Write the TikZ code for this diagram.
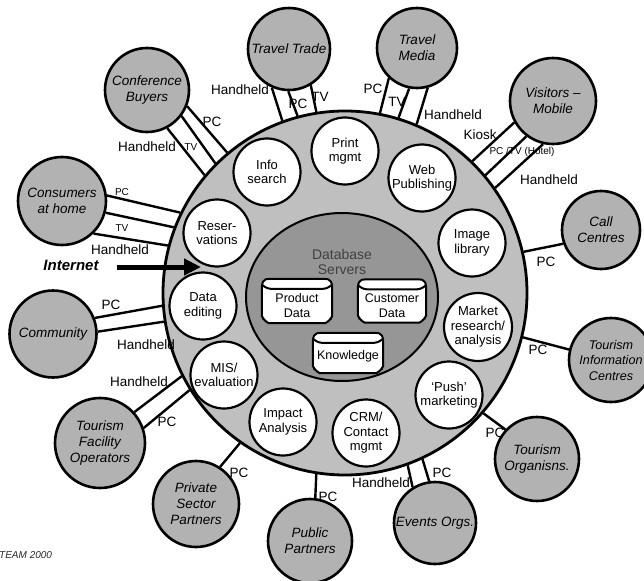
\documentclass[tikz,border=0pt]{standalone}
\usepackage{fontspec}
\setmainfont{Liberation Sans}
\usetikzlibrary{shapes.geometric,arrows.meta}

\definecolor{ringgray}{gray}{0.75}
\definecolor{hubgray}{gray}{0.59}
\definecolor{partygray}{gray}{0.70}

% data store outline (drum seen from the side) around an empty node
\newcommand\drumbox[1]{%
  \draw[storeline,fill=white,rounded corners=2pt]
    ([yshift=-6pt]#1.north west) -- ([xshift=2pt,yshift=-1pt]#1.north west)
    -- ([xshift=6pt]#1.north west) -- ([xshift=-6pt]#1.north east)
    -- ([xshift=-2pt,yshift=-1pt]#1.north east) -- ([yshift=-6pt]#1.north east)
    -- ([yshift=5pt]#1.south east) -- ([xshift=-3pt,yshift=4pt]#1.south east)
    -- ([xshift=-5pt]#1.south east) -- ([xshift=5pt]#1.south west)
    -- ([xshift=3pt,yshift=4pt]#1.south west) -- ([yshift=5pt]#1.south west)
    -- cycle;
  \draw[storeline,rounded corners=3pt]
    ([yshift=-6pt]#1.north west) -- ([xshift=6pt,yshift=-10pt]#1.north west)
    -- ([xshift=-6pt,yshift=-10pt]#1.north east) -- ([yshift=-6pt]#1.north east);
}

\begin{document}
\begin{tikzpicture}[x=1pt,y=-1pt,
  ringnode/.style={circle,draw,line width=2.8pt,fill=ringgray,minimum size=364pt,inner sep=0pt},
  hub/.style={ellipse,draw,line width=2pt,fill=hubgray,minimum width=192pt,minimum height=168pt,inner sep=0pt},
  hubtext/.style={align=center,inner sep=0pt,text=black!75,font=\fontsize{14}{15}\selectfont},
  store/.style={rectangle,draw=none,inner sep=0pt,minimum width=70pt,minimum height=44pt},
  storeline/.style={line width=2pt,line join=round},
  storetext/.style={align=center,inner sep=0pt,font=\fontsize{12.5}{15}\selectfont},
  service/.style={circle,draw,line width=2.2pt,fill=white,minimum size=67pt,inner sep=0pt,
    align=center,font=\fontsize{13}{14.5}\selectfont},
  party/.style={circle,draw,line width=2.6pt,fill=partygray,inner sep=0pt,
    align=center,font=\fontsize{13.5}{16}\selectfont\itshape},
  link/.style={line width=2.4pt},
  lbl/.style={inner sep=0pt,font=\fontsize{13.5}{16}\selectfont},
  slbl/.style={inner sep=0pt,font=\fontsize{10}{12}\selectfont}]

\useasboundingbox (0,0) rectangle (644,580);

% central ring and database hub
\node[ringnode] (ring) at (345,293) {};
\node[hub] (hub) at (342,297) {};
\node[hubtext] (dbs) at (342,262) {Database\\Servers};

\node[store] (pd) at (297,301) {};
\drumbox{pd}
\node[storetext] (pdt) at (297,306) {Product\\Data};
\node[store,minimum width=68pt,minimum height=43pt] (cd) at (392,301) {};
\drumbox{cd}
\node[storetext] (cdt) at (392,306) {Customer\\Data};
\node[store,minimum height=40pt] (kn) at (348,353) {};
\drumbox{kn}
\node[storetext] (knt) at (348,356) {Knowledge};

% services around the hub
\node[service] (is)  at (267,172) {Info\\search};
\node[service] (pm)  at (345,151) {Print\\mgmt};
\node[service] (wp)  at (422,178) {Web\\Publishing};
\node[service] (il)  at (472,243) {Image\\library};
\node[service] (mr)  at (478,327) {Market\\research/\\analysis};
\node[service] (pu)  at (449,395) {‘Push’\\marketing};
\node[service] (crm) at (366,433) {CRM/\\Contact\\mgmt};
\node[service] (ia)  at (283,422) {Impact\\Analysis};
\node[service] (mis) at (224,375) {MIS/\\evaluation};
\node[service] (de)  at (203,306) {Data\\editing};
\node[service] (rs)  at (217,233) {Reser-\\vations};

% partners and users
\node[party,minimum size=84pt] (cb) at (147,90)  {Conference\\Buyers};
\node[party,minimum size=82pt] (tt) at (289,49)  {Travel Trade};
\node[party,minimum size=80pt] (tm) at (417,48)  {Travel\\Media};
\node[party,minimum size=86pt] (vm) at (553,101) {Visitors –\\Mobile};
\node[party,minimum size=78pt] (cc) at (601,230) {Call\\Centres};
\node[party,minimum size=84pt,font=\fontsize{12.6}{15.5}\selectfont\itshape] (ti) at (611,360) {Tourism\\Information\\Centres};
\node[party,minimum size=84pt] (to) at (537,459) {Tourism\\Organisns.};
\node[party,minimum size=82pt] (eo) at (435,523) {Events Orgs.};
\node[party,minimum size=84pt] (pp) at (310,541) {Public\\Partners};
\node[party,minimum size=86pt] (ps) at (196,504) {Private\\Sector\\Partners};
\node[party,minimum size=90pt] (tf) at (100,443) {Tourism\\Facility\\Operators};
\node[party,minimum size=87pt] (co) at (53,334)  {Community};
\node[party,minimum size=88pt] (ch) at (62,201)  {Consumers\\at home};

% access channels
\draw[link] (cb.-62.8) -- (ring.140.8);
\draw[link] (cb.-37.1) -- (ring.135.4);
\draw[link] (cb.-22.5) -- (ring.130.5);

\draw[link] (tt.-114.7) -- (ring.110.9);
\draw[link] (tt.-91.4)  -- (ring.105.6);
\draw[link] (tt.-59.2)  -- (ring.99.5);

\draw[link] (tm.-133)   -- (ring.79.9);
\draw[link] (tm.-101.9) -- (ring.73.4);
\draw[link] (tm.-75.7)  -- (ring.67.4);

\draw[link] (vm.-151.7) -- (ring.46.6);
\draw[link] (vm.-127.4) -- (ring.40.2);
\draw[link] (vm.-103)   -- (ring.35.0);

\draw[link] (cc.-160) -- (ring.13.0);
\draw[link] (ti.166.6) -- (ring.-14.4);
\draw[link] (to.137) -- (ring.-41);

\draw[link] (eo.122.5) -- (ring.-70.8);
\draw[link] (eo.98.5)  -- (ring.-65.8);

\draw[link] (pp.83.2) -- (ring.-99.5);
\draw[link] (ps.57.8) -- (ring.-125.7);

\draw[link] (tf.42.3) -- (ring.-153.9);
\draw[link] (tf.19.7) -- (ring.-148.5);

\draw[link] (co.21.1) -- (ring.-176.5);
\draw[link] (co.3.8)  -- (ring.-171.5);

\draw[link] (ch.7.6)  -- (ring.154.6);
\draw[link] (ch.-15)  -- (ring.159.7);
\draw[link] (ch.-46)  -- (ring.165.7);

% channel labels
\node[lbl]  (cbh) at (147,147) {Handheld};
\node[slbl] (cbt) at (191,147) {TV};
\node[lbl]  (cbp) at (212,122) {PC};

\node[lbl] (tth) at (240,90)  {Handheld};
\node[lbl] (ttp) at (298,104) {PC};
\node[lbl] (ttt) at (320,97)  {TV};

\node[lbl] (tmp) at (373,89)  {PC};
\node[lbl] (tmt) at (397,102) {TV};
\node[lbl] (tmh) at (453,115) {Handheld};

\node[lbl]  (vmk) at (480,135) {Kiosk};
\node[slbl] (vmp) at (522,152) {PC /TV (Hotel)};
\node[lbl]  (vmh) at (549,180) {Handheld};

\node[lbl] (ccp) at (546,262) {PC};
\node[lbl] (tip) at (538,350) {PC};
\node[lbl] (top) at (495,433) {PC};

\node[lbl] (eoh) at (381,483) {Handheld};
\node[lbl] (eop) at (442,473) {PC};
\node[lbl] (ppp) at (328,497) {PC};
\node[lbl] (psp) at (239,473) {PC};

\node[lbl] (tfh) at (139,382) {Handheld};
\node[lbl] (tfp) at (167,422) {PC};

\node[lbl] (cop) at (111,305) {PC};
\node[lbl] (coh) at (146,345) {Handheld};

\node[slbl] (chp) at (122,192) {PC};
\node[slbl] (cht) at (122,228) {TV};
\node[lbl]  (chh) at (120,250) {Handheld};

% internet access arrow
\node[inner sep=0pt,font=\fontsize{15}{18}\selectfont\bfseries\itshape] (inet) at (71,265) {Internet};
\coordinate (inetend) at (201,267);
\draw[line width=5pt,-{Triangle[length=17pt,width=16pt]}] ([xshift=18pt,yshift=-2pt]inet.east) -- (inetend);

\node[anchor=west,inner sep=0pt,text=black!85,font=\fontsize{10}{12}\selectfont\itshape] (team) at (-1,555) {TEAM 2000};

\end{tikzpicture}
\end{document}
